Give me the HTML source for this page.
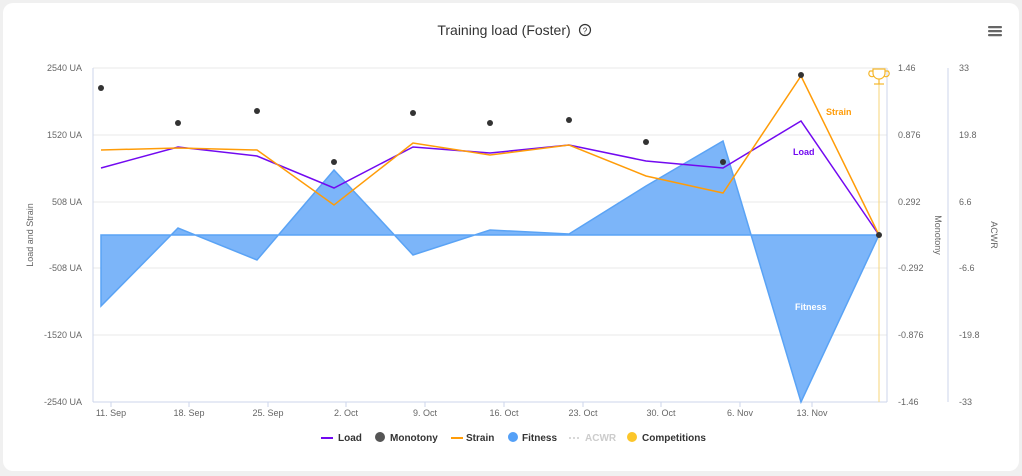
<!DOCTYPE html><html><head><style>body{margin:0;background:#f0f0f0;font-family:"Liberation Sans",sans-serif}
.c{position:absolute;left:3px;top:3px;width:1016px;height:468px;background:#fff;border-radius:10px}
</style></head><body><div class="c"></div>
<svg width="1022" height="476" style="position:absolute;left:0;top:0" font-family="Liberation Sans, sans-serif">
<text x="504" y="35" text-anchor="middle" font-size="14" fill="#333">Training load (Foster)</text>
<circle cx="585" cy="30" r="5.5" fill="none" stroke="#333" stroke-width="1.2"/><text x="585" y="33.5" text-anchor="middle" font-size="8" fill="#333">?</text>
<g fill="#666"><rect x="988" y="26" width="14" height="2.2" rx="1"/><rect x="988" y="30" width="14" height="2.2" rx="1"/><rect x="988" y="34" width="14" height="2.2" rx="1"/></g>
<g stroke="#e8e8e8"><line x1="93" x2="887" y1="68" y2="68"/><line x1="93" x2="887" y1="135" y2="135"/><line x1="93" x2="887" y1="202" y2="202"/><line x1="93" x2="887" y1="268" y2="268"/><line x1="93" x2="887" y1="335" y2="335"/></g>
<g stroke="#ccd6eb"><line x1="93" x2="93" y1="68" y2="402"/><line x1="93" x2="887" y1="402" y2="402"/><line x1="887" x2="887" y1="68" y2="402"/><line x1="948" x2="948" y1="68" y2="402"/>
<line x1="111" x2="111" y1="402" y2="407"/><line x1="189" x2="189" y1="402" y2="407"/><line x1="268" x2="268" y1="402" y2="407"/><line x1="346" x2="346" y1="402" y2="407"/><line x1="425" x2="425" y1="402" y2="407"/><line x1="504" x2="504" y1="402" y2="407"/><line x1="583" x2="583" y1="402" y2="407"/><line x1="661" x2="661" y1="402" y2="407"/><line x1="740" x2="740" y1="402" y2="407"/><line x1="812" x2="812" y1="402" y2="407"/></g>
<g font-size="9" fill="#666" text-anchor="end"><text x="82" y="71">2540 UA</text><text x="82" y="138">1520 UA</text><text x="82" y="205">508 UA</text><text x="82" y="271">-508 UA</text><text x="82" y="338">-1520 UA</text><text x="82" y="405">-2540 UA</text></g>
<g font-size="9" fill="#666"><text x="898" y="71">1.46</text><text x="898" y="138">0.876</text><text x="898" y="205">0.292</text><text x="898" y="271">-0.292</text><text x="898" y="338">-0.876</text><text x="898" y="405">-1.46</text>
<text x="959" y="71">33</text><text x="959" y="138">19.8</text><text x="959" y="205">6.6</text><text x="959" y="271">-6.6</text><text x="959" y="338">-19.8</text><text x="959" y="405">-33</text></g>
<g font-size="9" fill="#666" text-anchor="middle"><text x="111" y="416">11. Sep</text><text x="189" y="416">18. Sep</text><text x="268" y="416">25. Sep</text><text x="346" y="416">2. Oct</text><text x="425" y="416">9. Oct</text><text x="504" y="416">16. Oct</text><text x="583" y="416">23. Oct</text><text x="661" y="416">30. Oct</text><text x="740" y="416">6. Nov</text><text x="812" y="416">13. Nov</text></g>
<text transform="translate(33,235) rotate(-90)" text-anchor="middle" font-size="9" fill="#666">Load and Strain</text>
<text transform="translate(935,235) rotate(90)" text-anchor="middle" font-size="9" fill="#666">Monotony</text>
<text transform="translate(991,235) rotate(90)" text-anchor="middle" font-size="9" fill="#666">ACWR</text>
<polygon points="101,235 101,306 178,228 257,260 334,170 413,255 490,230 569,234 646,186 723,141 801,402 879,235" fill="#7cb5f9" stroke="#5aa3f5" stroke-width="1.5"/>
<line x1="879" x2="879" y1="84" y2="402" stroke="#f7d57a"/>
<g fill="none" stroke="#f5b62a" stroke-width="1.2"><path d="M873,69 h12 v4 a6,6 0 0 1 -12,0 z"/><path d="M873,71 h-3 a3,3 0 0 0 4,5"/><path d="M885,71 h3 a3,3 0 0 1 -4,5"/><line x1="879" y1="79" x2="879" y2="84"/><line x1="874" y1="84" x2="884" y2="84"/></g>
<polyline points="101,168 178,147 257,156 334,188 413,147 490,153 569,145 646,161 723,168 801,121 879,235" fill="none" stroke="#7209f0" stroke-width="1.5"/>
<polyline points="101,150 178,148 257,150 334,205 413,143 490,155 569,145 646,176 723,193 801,76 879,235" fill="none" stroke="#ff9c08" stroke-width="1.5"/>
<g fill="#333"><circle cx="101" cy="88" r="3"/><circle cx="178" cy="123" r="3"/><circle cx="257" cy="111" r="3"/><circle cx="334" cy="162" r="3"/><circle cx="413" cy="113" r="3"/><circle cx="490" cy="123" r="3"/><circle cx="569" cy="120" r="3"/><circle cx="646" cy="142" r="3"/><circle cx="723" cy="162" r="3"/><circle cx="801" cy="75" r="3"/><circle cx="879" cy="235" r="3"/></g>
<g font-size="9" font-weight="bold"><text x="826" y="115" fill="#ff9c08">Strain</text><text x="793" y="155" fill="#7209f0">Load</text><text x="795" y="310" fill="#fff">Fitness</text></g>
<g font-size="10" font-weight="bold" fill="#333">
<line x1="321" x2="333" y1="438" y2="438" stroke="#7209f0" stroke-width="2"/><text x="338" y="441">Load</text>
<circle cx="380" cy="437" r="5" fill="#555"/><text x="390" y="441">Monotony</text>
<line x1="451" x2="463" y1="438" y2="438" stroke="#ff9c08" stroke-width="2"/><text x="466" y="441">Strain</text>
<circle cx="513" cy="437" r="5" fill="#54a0f7"/><text x="522" y="441">Fitness</text>
<line x1="569" x2="581" y1="438" y2="438" stroke="#ccc" stroke-width="1.5" stroke-dasharray="2,2"/><text x="585" y="441" fill="#ccc">ACWR</text>
<circle cx="632" cy="437" r="5" fill="#fcc62a"/><text x="642" y="441">Competitions</text></g>
</svg></body></html>
